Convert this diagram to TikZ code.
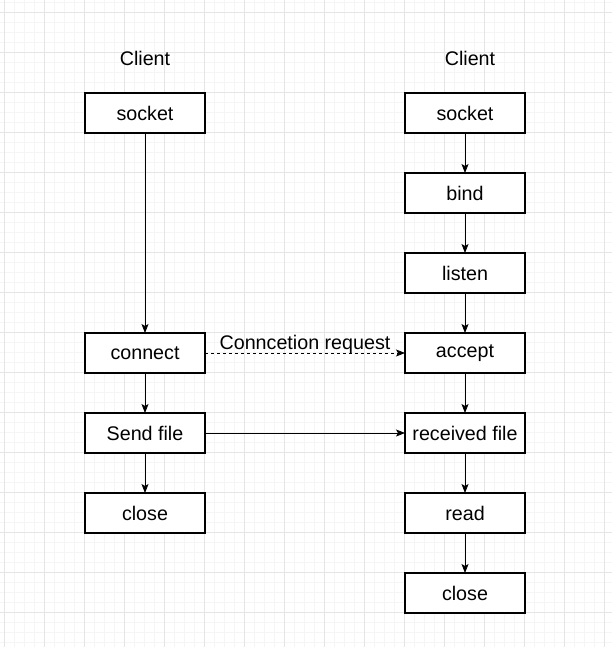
\documentclass[tikz,border=0pt]{standalone}
\usepackage{fontspec}
\setmainfont{Liberation Sans}
\usetikzlibrary{arrows.meta, positioning}
\tikzset{%
	box/.style={draw, rectangle, minimum width=120pt, minimum height=40pt,%
		inner sep=0pt, outer sep=0pt, line width=1.1pt, fill=white,%
		font=\fontsize{19.7}{23}\selectfont},
	title/.style={font=\fontsize{19.7}{23}\selectfont},
	flow/.style={-{Stealth[length=9pt, width=7pt, inset=2pt]}, line width=0.8pt},
	req/.style={flow, dash pattern=on 3pt off 3pt},
	minorgrid/.style={draw=black!4, line width=0.7pt},
	majorgrid/.style={draw=black!10, line width=0.7pt}
}

\begin{document}
\begin{tikzpicture}[x=1pt, y=-1pt, node distance=40pt]
	\fill[white] (0,0) rectangle (612,647);
	\useasboundingbox (0,0) rectangle (612,647);
	% grid
	\foreach \x in {4,14,...,604} \draw[minorgrid] (\x,0) -- (\x,647);
	\foreach \y in {2,12,...,642} \draw[minorgrid] (0,\y) -- (612,\y);
	\foreach \x in {4,44,...,604} \draw[majorgrid] (\x,0) -- (\x,647);
	\foreach \y in {12,52,...,612} \draw[majorgrid] (0,\y) -- (612,\y);

	\node[title] (clientL) at (145,58) {Client};
	\node[title] (clientR) at (470,58) {Client};

	\node[box] (sockL) at (145,113) {socket};
	\node[box, below=200pt of sockL] (connect) {connect};
	\node[box, below=of connect] (send) {Send file};
	\node[box, below=of send] (closeL) {close};

	\node[box, right=200pt of sockL] (sockR) {socket};
	\node[box, below=of sockR] (bind) {bind};
	\node[box, below=of bind] (listen) {listen};
	\node[box, below=of listen] (accept) {accept};
	\node[box, below=of accept] (recv) {received file};
	\node[box, below=of recv] (read) {read};
	\node[box, below=of read] (closeR) {close};

	\draw[flow] (sockL) to (connect);
	\draw[flow] (connect) to (send);
	\draw[flow] (send) to (closeL);
	\draw[flow] (sockR) to (bind);
	\draw[flow] (bind) to (listen);
	\draw[flow] (listen) to (accept);
	\draw[flow] (accept) to (recv);
	\draw[flow] (recv) to (read);
	\draw[flow] (read) to (closeR);
	\draw[req] (connect) to node[anchor=base, yshift=3.5pt, inner sep=0pt, title] {Conncetion request} (accept);
	\draw[flow] (send) to (recv);
\end{tikzpicture}
\end{document}
